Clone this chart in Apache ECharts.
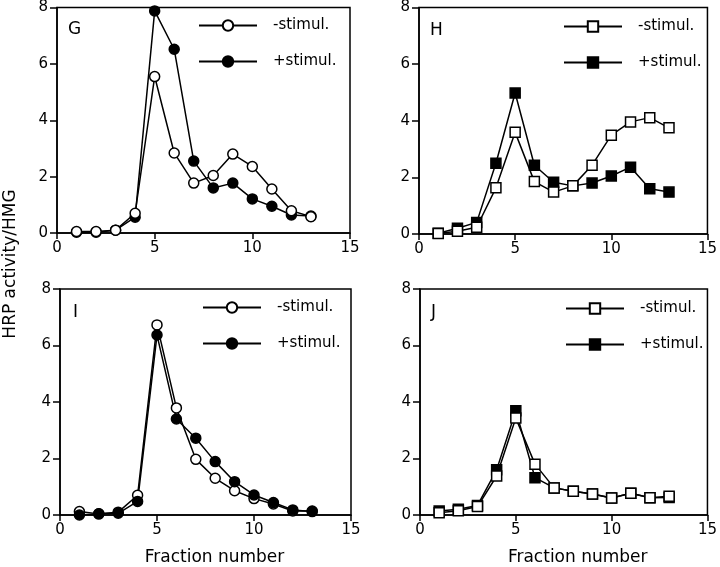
<!DOCTYPE html>
<html lang="en">
<head>
    <meta charset="UTF-8">
    <title>HRP activity</title>
</head>
<script src="https://cdn.jsdelivr.net/npm/echarts@6/dist/echarts.min.js"></script>
<body style="margin:0">
    <div id="main" style="width: 720px;height:567px;"></div>
    <script type="text/javascript">
       // fraction numbers shared by all panels
       var fractions = [1, 2, 3, 4, 5, 6, 7, 8, 9, 10, 11, 12, 13];
       var xTicks = [0, 5, 10, 15];
       var yTicks = [0, 2, 4, 6, 8];

       var gMinus = [0.05, 0.05, 0.1, 0.7, 5.55, 2.84, 1.77, 2.04, 2.8, 2.36, 1.56, 0.79, 0.58];
       var gPlus  = [0.03, 0.03, 0.1, 0.56, 7.88, 6.52, 2.55, 1.6, 1.77, 1.21, 0.95, 0.64, 0.6];
       var hMinus = [0.02, 0.1, 0.24, 1.63, 3.59, 1.85, 1.48, 1.7, 2.43, 3.49, 3.96, 4.11, 3.75];
       var hPlus  = [0.03, 0.2, 0.41, 2.5, 4.98, 2.43, 1.83, 1.7, 1.8, 2.05, 2.36, 1.6, 1.48];
       var iMinus = [0.12, 0.04, 0.1, 0.7, 6.73, 3.79, 1.97, 1.3, 0.86, 0.58, 0.39, 0.14, 0.14];
       var iPlus  = [0.0, 0.04, 0.06, 0.48, 6.37, 3.4, 2.72, 1.89, 1.18, 0.71, 0.44, 0.18, 0.12];
       var jMinus = [0.08, 0.15, 0.3, 1.38, 3.43, 1.8, 0.96, 0.84, 0.74, 0.6, 0.77, 0.61, 0.66];
       var jPlus  = [0.14, 0.2, 0.34, 1.6, 3.69, 1.32, 0.96, 0.84, 0.74, 0.6, 0.77, 0.61, 0.62];

       var font = 'DejaVu Sans';

       var panels = [
           {letter: 'G', grid: {left: 57, top: 6, width: 293, height: 227}, shape: 'circle', minus: gMinus, plus: gPlus, plusFirst: true, legend: {left: 193, top: 13}, nameShift: 0},
           {letter: 'H', grid: {left: 419, top: 7, width: 292, height: 227}, shape: 'rect', minus: hMinus, plus: hPlus, plusFirst: true, legend: {left: 558, top: 14}, nameShift: 0},
           {letter: 'I', grid: {left: 60, top: 289, width: 291, height: 226}, shape: 'circle', minus: iMinus, plus: iPlus, plusFirst: false, legend: {left: 197, top: 295}, nameShift: 18},
           {letter: 'J', grid: {left: 420, top: 289, width: 292, height: 226}, shape: 'rect', minus: jMinus, plus: jPlus, plusFirst: true, legend: {left: 560, top: 296}, nameShift: 28}
       ];

       function pairs(vals) {
           var out = [];
           for (var i = 0; i < fractions.length; i++) {
               out.push([fractions[i], vals[i]]);
           }
           return out;
       }

       var grids = [], xAxes = [], yAxes = [], series = [], legends = [], titles = [];

       panels.forEach(function (p, idx) {
           grids.push({
               left: p.grid.left, top: p.grid.top, width: p.grid.width, height: p.grid.height,
               show: true, borderColor: '#000', borderWidth: 1.5, backgroundColor: 'transparent'
           });
           xAxes.push({
               gridIndex: idx, type: 'value', min: xTicks[0], max: xTicks[xTicks.length - 1], interval: 5,
               axisLine: {lineStyle: {color: '#000', width: 1.5}},
               axisTick: {length: 6, lineStyle: {color: '#000', width: 1.5}},
               axisLabel: {color: '#000', fontFamily: font, fontSize: 15, margin: 8},
               splitLine: {show: false},
               name: idx >= 2 ? 'Fraction number' : '',
               nameLocation: 'middle', nameGap: 34,
               nameTextStyle: {color: '#000', fontFamily: font, fontSize: 17, padding: [0, 0, 0, p.nameShift]}
           });
           yAxes.push({
               gridIndex: idx, type: 'value', min: yTicks[0], max: yTicks[yTicks.length - 1], interval: 2,
               axisLine: {lineStyle: {color: '#000', width: 1.5}},
               axisTick: {length: 7, lineStyle: {color: '#000', width: 1.5}},
               axisLabel: {color: '#000', fontFamily: font, fontSize: 15, margin: 9},
               splitLine: {show: false}
           });

           var minusName = p.letter + '|-stimul.';
           var plusName = p.letter + '|+stimul.';
           var minusSeries = {
               name: minusName, type: 'line', xAxisIndex: idx, yAxisIndex: idx,
               data: pairs(p.minus), symbol: p.shape, symbolSize: 10,
               lineStyle: {color: '#000', width: 1.5},
               itemStyle: {color: '#fff', borderColor: '#000', borderWidth: 1.5},
               animation: false
           };
           var plusSeries = {
               name: plusName, type: 'line', xAxisIndex: idx, yAxisIndex: idx,
               data: pairs(p.plus), symbol: p.shape, symbolSize: 10,
               lineStyle: {color: '#000', width: 1.5},
               itemStyle: {color: '#000', borderColor: '#000', borderWidth: 1.5},
               animation: false
           };
           if (p.plusFirst) {
               series.push(plusSeries, minusSeries);
           } else {
               series.push(minusSeries, plusSeries);
           }

           legends.push({
               data: [minusName, plusName], orient: 'vertical',
               left: p.legend.left, top: p.legend.top,
               itemWidth: 58, itemHeight: 13, itemGap: 21,
               selectedMode: false,
               formatter: function (name) { return name.split('|')[1]; },
               textStyle: {color: '#000', fontFamily: font, fontSize: 15, padding: [0, 0, 0, 11]}
           });

           titles.push({
               text: p.letter,
               left: p.grid.left + (p.letter === 'I' ? 8 : 6), top: p.grid.top + 10,
               textStyle: {color: '#000', fontFamily: font, fontSize: 17, fontWeight: 'normal'}
           });
       });

       var myChart = echarts.init(document.getElementById('main'));
       var option = {
           animation: false,
           title: titles,
           legend: legends,
           grid: grids,
           xAxis: xAxes,
           yAxis: yAxes,
           series: series,
           graphic: [{
               type: 'text', rotation: Math.PI / 2, x: 2, y: 264,
               style: {text: 'HRP activity/HMG', fill: '#000', font: '17px "DejaVu Sans"', align: 'center', verticalAlign: 'top'}
           }]
       };
       myChart.setOption(option);
    </script>
</body>
</html>
